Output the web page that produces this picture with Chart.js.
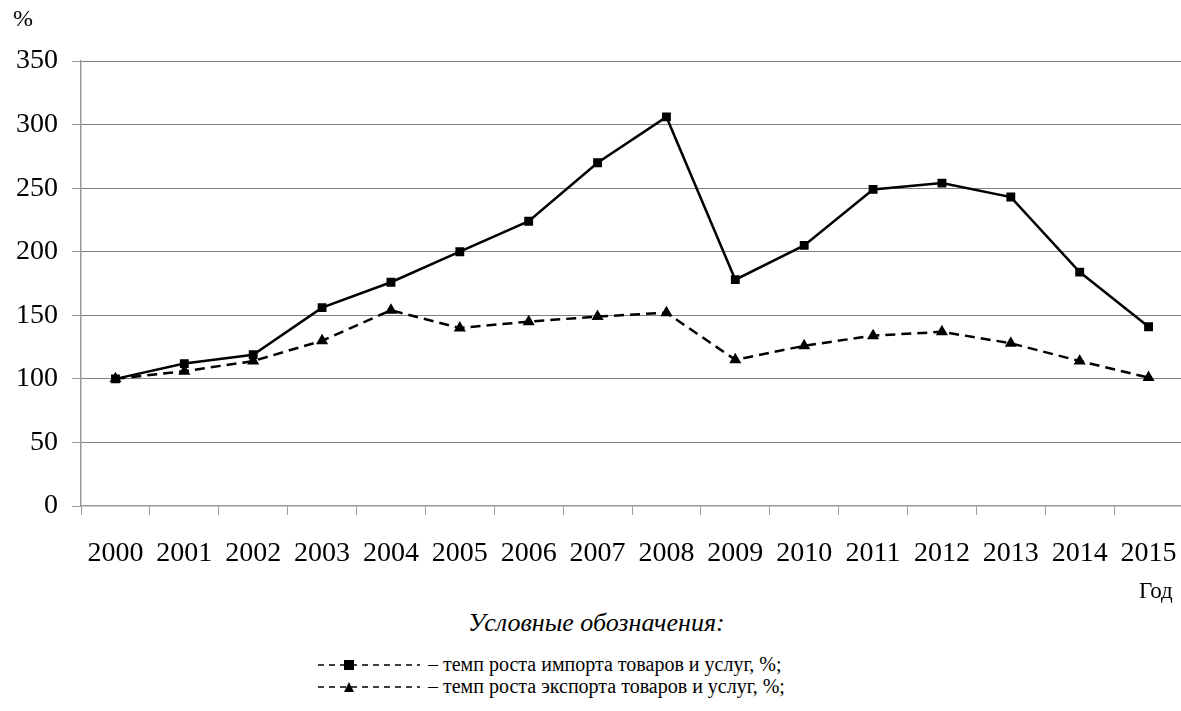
<!DOCTYPE html>
<html>
<head>
<meta charset="utf-8">
<script src="https://cdn.jsdelivr.net/npm/chart.js@4/dist/chart.umd.min.js"></script>
<style>
  body { margin: 0; background: #fff; font-family: "Liberation Serif", "Times New Roman", serif; color: #000; overflow: hidden; }
  #wrap { position: relative; width: 1181px; height: 711px; overflow: hidden; }
  #box { position: absolute; left: 0; top: 0; width: 1190px; height: 580px; }
  .txt { position: absolute; white-space: nowrap; }
  #pct { left: 13px; top: 5px; font-size: 24px; }
  #god { left: 1139px; top: 578px; font-size: 23px; }
  #cap { left: 468px; top: 608px; font-size: 26px; font-style: italic; }
  .leg { left: 318px; font-size: 20px; display: flex; align-items: center; }
  .leg svg { margin-right: 8px; }
</style>
</head>
<body>
<div id="wrap">
  <div id="box"><canvas id="lineChart"></canvas></div>
  <div class="txt" id="pct">%</div>
  <div class="txt" id="god">Год</div>
  <div class="txt" id="cap">Условные обозначения:</div>
  <div class="txt leg" style="top:653px">
    <svg width="102" height="12"><line x1="0" y1="6" x2="102" y2="6" stroke="#000" stroke-width="1.5" stroke-dasharray="6,5"/><rect x="26" y="1" width="10" height="10" fill="#000"/></svg>– темп роста импорта товаров и услуг, %;
  </div>
  <div class="txt leg" style="top:675px">
    <svg width="102" height="12"><line x1="0" y1="6" x2="102" y2="6" stroke="#000" stroke-width="1.5" stroke-dasharray="6,5"/><polygon points="31,1 36,11 26,11" fill="#000"/></svg>– темп роста экспорта товаров и услуг, %;
  </div>
</div>
<script>
  // Data
  const years = ["2000", "2001", "2002", "2003", "2004", "2005", "2006", "2007",
    "2008", "2009", "2010", "2011", "2012", "2013", "2014", "2015"];
  const importGrowth = [100, 112, 119, 156, 176, 200, 224, 270, 306, 178, 205, 249, 254, 243, 184, 141];
  const exportGrowth = [100, 106, 114, 130, 154, 140, 145, 149, 152, 115, 126, 134, 137, 128, 114, 101];
  const yTicks = [0, 50, 100, 150, 200, 250, 300, 350];

  const tickFont = { family: "Liberation Serif", size: 28 };

  new Chart(document.getElementById("lineChart").getContext("2d"), {
    type: "line",
    data: {
      labels: years,
      datasets: [
        {
          label: "импорт",
          data: importGrowth,
          borderColor: "#000",
          backgroundColor: "#000",
          borderWidth: 2.5,
          pointStyle: "rect",
          pointRadius: 4.5,
          tension: 0,
        },
        {
          label: "экспорт",
          data: exportGrowth,
          borderColor: "#000",
          backgroundColor: "#000",
          borderWidth: 2.5,
          borderDash: [10, 6],
          pointStyle: "triangle",
          pointRadius: 4.5,
          tension: 0,
        },
      ],
    },
    options: {
      responsive: true,
      maintainAspectRatio: false,
      animation: false,
      layout: { padding: { top: 61, right: 0, bottom: 0, left: 0 } },
      plugins: { legend: { display: false }, tooltip: { enabled: false } },
      scales: {
        x: {
          offset: true,
          grid: {
            display: true,
            offset: true,
            drawOnChartArea: false,
            tickLength: 9,
            tickColor: "#999",
          },
          border: { color: "#999", width: 1.5 },
          ticks: { color: "#000", font: tickFont, padding: 22, maxRotation: 0, autoSkip: false },
          afterFit: (s) => {
            s.height = 74;
            s.paddingLeft = 0;
            s.paddingRight = 0;
          },
        },
        y: {
          min: 0,
          max: 350,
          afterBuildTicks: (s) => { s.ticks = yTicks.map((v) => ({ value: v })); },
          grid: {
            color: (c) => (c.tick && c.tick.value === 0 ? "rgba(0,0,0,0)" : "#000"),
            lineWidth: 1,
            tickLength: 9,
            tickColor: "#999",
            tickBorderDash: [],
          },
          border: { color: "#999", width: 1.5, dash: [1, 1] },
          ticks: { color: "#000", font: tickFont, padding: 14 },
          afterFit: (s) => { s.width = 81; },
        },
      },
    },
  });
</script>
</body>
</html>
